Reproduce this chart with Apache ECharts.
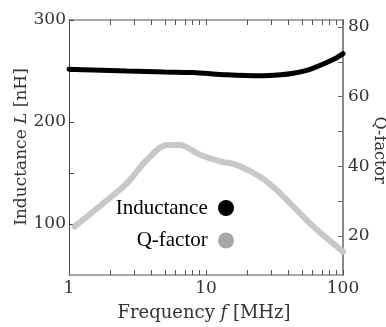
<!DOCTYPE html>
<html><head><meta charset="utf-8">
<script src="https://cdn.jsdelivr.net/npm/echarts@6/dist/echarts.min.js"></script>
<style>html,body{margin:0;padding:0;background:#fff}#c{width:386px;height:327px}</style>
</head><body><div id="c"></div>
<script>
const freqInd = [1, 1.5, 2.65, 5, 8, 14.2, 24.8, 35, 43.3, 57.5, 76, 90, 100];
const inductance = [251.7, 251, 250, 249, 248.5, 246.3, 245.3, 246.3, 247.8, 251.7, 258.3, 263, 267];
const freqQ = [1.1, 1.78, 2.64, 3.69, 5.17, 6.46, 9.04, 12.65, 16.7, 24.8, 32.8, 43.4, 60.7, 100];
const qFactor = [22.7, 29.4, 35.1, 41.8, 46.1, 46.1, 43.3, 41.4, 40.4, 37.0, 33.2, 28.4, 22.7, 15.5];
const xLabels = [1, 10, 100];
const xTicks = [1,2,3,4,5,6,7,8,9,10,20,30,40,50,60,70,80,90,100];
const leftLabels = [100, 200, 300];
const leftTicks = [100, 150, 200, 250, 300];
const rightLabels = [20, 40, 60, 80];
const rightTicks = [20, 30, 40, 50, 60, 70, 80];

const serif = 'DejaVu Serif';
const chart = echarts.init(document.getElementById('c'), null, {renderer: 'canvas'});
const lblStyle = {fontFamily: serif, fontSize: 17, color: '#333'};

function logAxis(pos, withLabels) {
  return {type: 'log', logBase: 10, min: 1, max: 100, position: pos,
    axisLine: {show: true, lineStyle: {color: '#8a8a8a', width: 1.5}},
    axisTick: {show: true, inside: true, length: 5, customValues: xTicks, lineStyle: {color: '#555', width: 1}},
    axisLabel: withLabels ? Object.assign({customValues: xLabels, margin: 5}, lblStyle) : {show: false},
    splitLine: {show: false}, minorTick: {show: false}};
}

chart.setOption({
  animation: false,
  grid: {left: 69, right: 43, top: 20, bottom: 52},
  xAxis: [logAxis('bottom', true), logAxis('top', false)],
  yAxis: [
    {type: 'value', min: 50, max: 300, position: 'left',
     axisLine: {show: true, lineStyle: {color: '#444', width: 1}},
     axisTick: {show: true, inside: true, length: 5, customValues: leftTicks, lineStyle: {color: '#444'}},
     axisLabel: Object.assign({customValues: leftLabels, margin: 3}, lblStyle),
     splitLine: {show: false}},
    {type: 'value', min: 8.8, max: 82, position: 'right',
     axisLine: {show: true, lineStyle: {color: '#8a8a8a', width: 2}},
     axisTick: {show: true, inside: true, length: 5, customValues: rightTicks, lineStyle: {color: '#666'}},
     axisLabel: Object.assign({customValues: rightLabels, margin: 5}, lblStyle),
     splitLine: {show: false}}
  ],
  legend: [
    {data: [{name: 'Inductance', itemStyle: {color: '#000'}}], selectedMode: false,
     right: 147, top: 192.5, itemWidth: 16, itemHeight: 16, icon: 'circle', align: 'right',
     formatter: n => n + ' ',
     textStyle: {fontFamily: 'Liberation Serif', fontSize: 21, color: '#000', lineHeight: 16}},
    {data: [{name: 'Q-factor', itemStyle: {color: '#a8a8a8'}}], selectedMode: false,
     right: 147, top: 225, itemWidth: 16, itemHeight: 16, icon: 'circle', align: 'right',
     formatter: n => n + ' ',
     textStyle: {fontFamily: 'Liberation Serif', fontSize: 21, color: '#000', lineHeight: 16}}
  ],
  graphic: [
    {type: 'text', x: 22, y: 147, rotation: Math.PI / 2,
     style: {text: 'Inductance {i|L} [nH]', fontFamily: serif, fontSize: 17, fill: '#3a3330',
       align: 'center', verticalAlign: 'middle',
       rich: {i: {fontStyle: 'italic', fontFamily: serif, fontSize: 17, fill: '#3a3330'}}}},
    {type: 'text', x: 379, y: 150, rotation: -Math.PI / 2,
     style: {text: 'Q-factor', fontFamily: serif, fontSize: 16, fill: '#333',
       align: 'center', verticalAlign: 'middle'}},
    {type: 'text', x: 204, y: 313,
     style: {text: 'Frequency {i|f} [MHz]', fontFamily: serif, fontSize: 18, fill: '#333',
       align: 'center', verticalAlign: 'middle',
       rich: {i: {fontStyle: 'italic', fontFamily: serif, fontSize: 18, fill: '#333'}}}}
  ],
  series: [
    {name: 'Q-factor', type: 'line', xAxisIndex: 0, yAxisIndex: 1, smooth: 0.3, showSymbol: false,
     lineStyle: {color: '#c8c8c8', width: 6, cap: 'round'}, itemStyle: {color: '#a8a8a8'},
     data: freqQ.map((f, i) => [f, qFactor[i]])},
    {name: 'Inductance', type: 'line', xAxisIndex: 0, yAxisIndex: 0, smooth: 0.3, showSymbol: false,
     lineStyle: {color: '#000', width: 5, cap: 'round'}, itemStyle: {color: '#000'},
     data: freqInd.map((f, i) => [f, inductance[i]])}
  ]
});
</script></body></html>
